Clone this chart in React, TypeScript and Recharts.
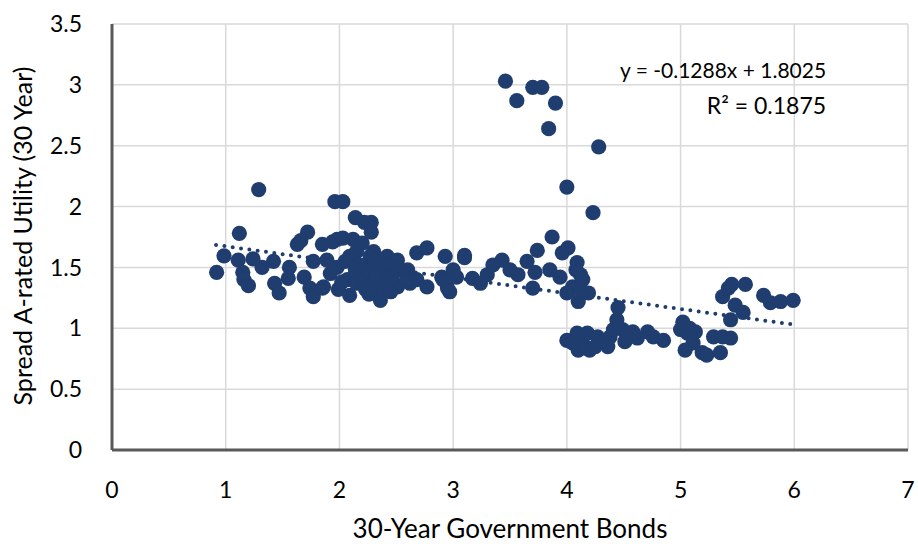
import React from "react";
import { ScatterChart, Scatter, XAxis, YAxis, CartesianGrid, ReferenceDot } from "recharts";

const bondYields: number[] = [
  0.92, 0.985, 1.11, 1.12, 1.15, 1.16, 1.20, 1.24, 1.29, 1.32, 1.42, 1.43, 1.47, 1.56, 1.55, 1.63, 1.66, 1.72, 1.69, 1.74,
  1.77, 1.85, 1.77, 1.85, 1.94, 1.96, 2.03, 1.98, 2.03, 2.12, 2.20, 1.89, 1.98, 2.09, 2.15, 2.30, 2.42, 2.51, 2.60, 2.68,
  2.77, 2.93, 3.10, 1.86, 1.99, 2.07, 2.15, 2.23, 2.30, 2.36, 2.42, 2.51, 2.62, 2.68, 2.77, 2.90, 2.95, 3.03, 2.24, 2.33,
  2.42, 2.21, 2.36, 2.27, 2.51, 2.59, 2.31, 2.40, 2.46, 2.18, 2.29, 2.37, 2.14, 2.05, 2.09, 2.14, 2.22, 2.28, 2.28, 2.35,
  2.38, 2.26, 2.45, 2.32, 1.92, 2.02,
  3.10, 3.00, 2.91, 2.97, 3.17, 3.24, 3.30, 3.35, 3.43, 3.50, 3.57, 3.65, 3.74, 3.87, 3.72, 3.70, 3.85, 3.94, 4.01, 3.96,
  4.09, 4.12, 4.05, 4.14, 4.00, 4.10, 4.14, 4.19, 4.08, 4.11,
  3.46, 3.56, 3.70, 3.78, 3.90, 3.84, 4.28, 4.00, 4.23,
  4.00, 4.09, 4.10, 4.18, 4.20, 4.27, 4.32, 4.38, 4.41, 4.44, 4.45, 4.49, 4.51, 4.58, 4.62, 4.71, 4.76, 4.85, 4.36, 4.05,
  4.15, 4.25,
  5.02, 5.06, 5.11, 5.04, 5.19, 5.23, 5.29, 5.35, 5.37, 5.44, 5.44, 5.37, 5.45, 5.57, 5.48, 5.55, 5.73, 5.79, 5.88, 5.99,
  5.13, 5.00, 5.08, 5.42,
];

const utilitySpreads: number[] = [
  1.46, 1.595, 1.56, 1.78, 1.46, 1.40, 1.35, 1.57, 2.14, 1.50, 1.55, 1.37, 1.29, 1.50, 1.41, 1.69, 1.72, 1.79, 1.42, 1.33,
  1.26, 1.69, 1.55, 1.33, 1.71, 2.04, 2.04, 1.73, 1.74, 1.73, 1.70, 1.56, 1.50, 1.59, 1.63, 1.63, 1.59, 1.56, 1.48, 1.62,
  1.66, 1.59, 1.58, 1.34, 1.32, 1.40, 1.37, 1.32, 1.29, 1.23, 1.34, 1.34, 1.37, 1.40, 1.34, 1.42, 1.33, 1.42, 1.50, 1.48,
  1.46, 1.42, 1.40, 1.59, 1.48, 1.40, 1.55, 1.52, 1.41, 1.52, 1.37, 1.32, 1.48, 1.55, 1.27, 1.91, 1.87, 1.87, 1.79, 1.45,
  1.37, 1.28, 1.30, 1.43, 1.45, 1.38,
  1.60, 1.48, 1.40, 1.30, 1.41, 1.37, 1.44, 1.52, 1.56, 1.48, 1.44, 1.55, 1.64, 1.75, 1.46, 1.33, 1.48, 1.42, 1.66, 1.62,
  1.54, 1.44, 1.34, 1.40, 1.29, 1.22, 1.29, 1.29, 1.48, 1.35,
  3.03, 2.87, 2.98, 2.98, 2.85, 2.64, 2.49, 2.16, 1.95,
  0.90, 0.96, 0.82, 0.96, 0.82, 0.93, 0.89, 0.93, 0.99, 1.07, 1.17, 0.99, 0.89, 0.97, 0.92, 0.97, 0.93, 0.90, 0.85, 0.88,
  0.86, 0.85,
  1.05, 0.96, 0.88, 0.82, 0.80, 0.78, 0.93, 0.80, 0.93, 0.92, 1.07, 1.26, 1.36, 1.36, 1.19, 1.13, 1.27, 1.21, 1.22, 1.23,
  0.97, 0.99, 1.00, 1.33,
];

const xTicks = [0, 1, 2, 3, 4, 5, 6, 7];
const yTicks = [0, 0.5, 1, 1.5, 2, 2.5, 3, 3.5];

const slope = -0.1288;
const intercept = 1.8025;
const trendRange = [0.915, 5.98];
const equationText = "y = -0.1288x + 1.8025";
const r2Text = "R² = 0.1875";

const scatterData = bondYields.map((x, i) => ({ x, y: utilitySpreads[i] }));
const trendData = trendRange.map((x) => ({ x, y: slope * x + intercept }));

const DOT = "#1F3D6E";
const FONT = "Lato, 'Open Sans', sans-serif";

const Dot = (p: any) => <circle cx={p.cx} cy={p.cy} r={7.6} fill={DOT} />;

export default function App() {
  return (
    <div style={{ width: 918, height: 544, background: "#fff" }}>
      <style>{`body{margin:0;}`}</style>
      <ScatterChart
        width={918}
        height={544}
        margin={{ top: 24, right: 10, bottom: 0, left: 0 }}
        style={{ fontFamily: FONT }}
      >
        <CartesianGrid stroke="#D9D9D9" strokeWidth={1.5} />
        <XAxis
          type="number"
          dataKey="x"
          domain={[0, 7]}
          ticks={xTicks}
          height={94}
          axisLine={{ stroke: "#595959", strokeWidth: 3 }}
          tickLine={false}
          tickSize={0}
          tickMargin={32}
          tick={{ fill: "#000", fontSize: 23, fontFamily: FONT }}
          label={{
            value: "30-Year Government Bonds",
            position: "insideBottom",
            offset: 6,
            style: { fill: "#000", fontSize: 26, fontFamily: FONT },
          }}
          allowDataOverflow
        />
        <YAxis
          type="number"
          dataKey="y"
          domain={[0, 3.5]}
          ticks={yTicks}
          width={112}
          axisLine={{ stroke: "#595959", strokeWidth: 3 }}
          tickLine={false}
          tickSize={0}
          tickMargin={30}
          tick={{ fill: "#000", fontSize: 23, fontFamily: FONT }}
          label={(props: any) => {
            const vb = props.viewBox;
            const cx = vb.x + 22;
            const cy = vb.y + vb.height / 2 - 1;
            return (
              <text
                x={cx}
                y={cy}
                transform={`rotate(-90, ${cx}, ${cy})`}
                textAnchor="middle"
                dominantBaseline="central"
                fill="#000"
                fontSize={25}
                fontFamily={FONT}
              >
                Spread A-rated Utility (30 Year)
              </text>
            );
          }}
          allowDataOverflow
        />
        <Scatter data={scatterData} shape={Dot} isAnimationActive={false} />
        <Scatter
          data={trendData}
          isAnimationActive={false}
          shape={() => <g />}
          line={{ stroke: DOT, strokeWidth: 4, strokeDasharray: "0 8.4", strokeLinecap: "round" }}
        />
        <ReferenceDot
          x={6.28}
          y={3.12}
          r={0}
          label={{ value: equationText, position: "left", offset: 0, fill: "#000", fontSize: 21, fontFamily: FONT }}
        />
        <ReferenceDot
          x={6.28}
          y={2.83}
          r={0}
          label={{ value: r2Text, position: "left", offset: 0, fill: "#000", fontSize: 23, fontFamily: FONT }}
        />
      </ScatterChart>
    </div>
  );
}
